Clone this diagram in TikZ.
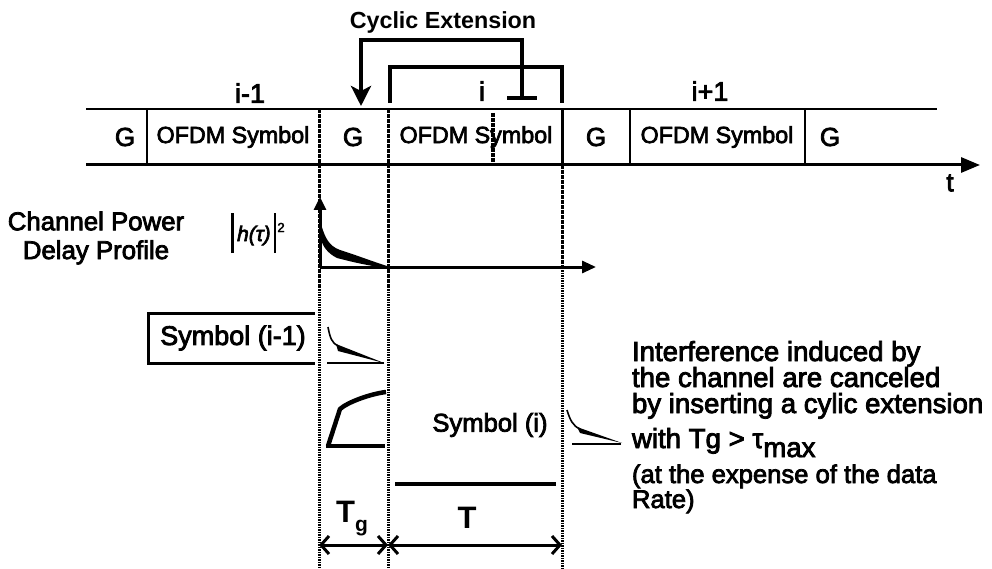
\documentclass[tikz,border=0pt]{standalone}
\usepackage{fontspec}
\setmainfont{Liberation Sans}
\newfontfamily\scanfont{Liberation Sans}[FakeBold=3]
\usetikzlibrary{arrows.meta}
\begin{document}
\begin{tikzpicture}[x=1pt,y=-1pt,
  every node/.style={inner sep=0pt, outer sep=0pt},
  thinl/.style={line width=1.8pt},
  axisl/.style={line width=3pt},
  dotl/.style={line width=3pt, dash pattern=on 1.6pt off 0.9pt},
  brk/.style={line width=4pt},
  fs/.style={font=\fontsize{#1}{#1}\selectfont\scanfont},
  fsb/.style={font=\fontsize{#1}{#1}\selectfont\bfseries},
  barb/.style={line width=3pt, {Straight Barb[length=8pt,width=18pt]}-{Straight Barb[length=8pt,width=18pt]}},
]
\useasboundingbox (0,0) rectangle (992,569);

% ---------- time line ----------
\coordinate (tlL) at (86,109);  \coordinate (tlR) at (937,109);
\coordinate (axL) at (86,165);  \coordinate (axR) at (980,165);
\draw[thinl] (tlL) -- (tlR);
\draw[axisl,-{Triangle[length=19pt,width=15pt]}] (axL) -- (axR);

% separators inside the time line
\draw[thinl] (147,109) -- (147,165);
\draw[thinl] (630,109) -- (630,165);
\draw[thinl] (805,109) -- (805,165);
\draw[line width=3pt] (562,109) -- (562,165);
\draw[dotl, line width=3.4pt] (493,113) -- (493,165);

% long dotted guides
\coordinate (g1t) at (319,109); \coordinate (g1b) at (319,569);
\coordinate (g2t) at (388,109); \coordinate (g2b) at (388,569);
\coordinate (g3t) at (562,165); \coordinate (g3b) at (562,569);
\draw[dotl] (g1t) -- (g1b);
\draw[dotl] (g2t) -- (g2b);
\draw[dotl] (g3t) -- (g3b);

% labels in the time line
\node[fs=26] (G0) at (125,137) {G};
\node[fs=23.3] (S0) at (233,137) {OFDM Symbol};
\node[fs=26] (G1) at (353,137) {G};
\node[fs=23.3] (S1) at (476,137) {OFDM Symbol};
\node[fs=26] (G2) at (596,137) {G};
\node[fs=23.3] (S2) at (717,137) {OFDM Symbol};
\node[fs=26] (G3) at (830,137) {G};
\node[fs=26] (tl) at (950,183) {t};

\node[fs=27] (im1) at (250,93) {i-1};
\node[fs=27] (ii) at (482,91) {i};
\node[fs=27] (ip1) at (710,91) {i+1};

% ---------- cyclic extension ----------
\node[fsb=23.3] (ce) at (443,22) {Cyclic Extension};
\coordinate (ce1) at (522,98); \coordinate (ce2) at (522,40);
\coordinate (ce3) at (361,40); \coordinate (ce4) at (361,106);
\draw[brk,-{Stealth[length=20pt,width=20pt,inset=5pt]}] (ce1) -- (ce2) -- (ce3) -- (ce4);
\coordinate (teeL) at (507,98); \coordinate (teeR) at (537,98);
\draw[brk] (teeL) -- (teeR);
\coordinate (b1) at (390,103); \coordinate (b2) at (390,67);
\coordinate (b3) at (562,67);  \coordinate (b4) at (562,103);
\draw[brk] (b1) -- (b2) -- (b3) -- (b4);

% ---------- channel power delay profile ----------
\node[fs=25.8, align=center] (cpdp) at (96,238) {Channel Power\\[3pt]Delay Profile};
\node[font=\fontsize{21}{21}\selectfont\scanfont] (h) at (258,233) {\rule[-12pt]{2.8pt}{40pt}\hspace{3pt}\itshape h(τ)\hspace{3pt}\rule[-12pt]{2.8pt}{40pt}\hspace{1pt}\raisebox{9pt}{\fontsize{13}{13}\selectfont\upshape 2}};
\coordinate (o) at (320,267);
\coordinate (ytip) at (320,197);
\coordinate (xtip) at (596,267);
\draw[axisl,-{Triangle[length=13pt,width=12pt]}] (o) -- (ytip);
\draw[axisl,-{Triangle[length=14pt,width=12pt]}] (o) -- (xtip);
\fill (321,224) .. controls (325,238) and (329,246) .. (340,250)
  .. controls (356,255) and (374,262) .. (390,267)
  -- (386,268) .. controls (370,266) and (352,262) .. (337,258)
  .. controls (327,253) and (323,246) .. (321,240) -- cycle;

% ---------- symbol (i-1) ----------
\node[fs=27] (sim1) at (233,338) {Symbol (i-1)};
\coordinate (bx1) at (315,313); \coordinate (bx2) at (148,313);
\coordinate (bx3) at (148,363); \coordinate (bx4) at (315,363);
\draw[line width=3pt] (bx1) -- (bx2) -- (bx3) -- (bx4);
\draw[line width=1.6pt] (328,327) .. controls (330,338) and (332,343) .. (338,346);
\fill (336,344) -- (384,363) -- (338,351) -- cycle;
\draw[line width=2.4pt] (327,363) -- (384,363);

% rising tail of cyclic extension
\draw[line width=4.5pt, line join=round] (328,446) -- (340,409)
  .. controls (348,402) and (370,394) .. (386,392);
\draw[line width=3.5pt] (326,446) -- (385,446);

% ---------- symbol (i) ----------
\node[fs=25.6] (si) at (490,425) {Symbol (i)};
\coordinate (sl1) at (395,484); \coordinate (sl2) at (556,484);
\draw[line width=4pt] (sl1) -- (sl2);
\draw[line width=1.6pt] (567,410) .. controls (570,420) and (573,426) .. (580,429);
\fill (577,427) -- (622,443) -- (580,433) -- cycle;
\draw[line width=2.6pt] (572,444) -- (621,444);

% ---------- T_g and T ----------
\node[fsb=31] (tg) at (352,519) {T\raisebox{-9pt}{\fontsize{21}{21}\selectfont g}};
\node[fsb=31] (tt) at (467,518) {T};
\coordinate (a0) at (319,545); \coordinate (a1) at (388,545); \coordinate (a2) at (562,545);
\draw[barb] (a0) -- (a1);
\draw[barb] (a1) -- (a2);

% ---------- explanation ----------
\node[fs=27.6, anchor=base west] (r1) at (632,361) {Interference induced by};
\node[fs=27.6, anchor=base west] (r2) at (632,387) {the channel are canceled};
\node[fs=27.6, anchor=base west] (r3) at (632,413) {by inserting a cylic extension};
\node[fs=27.6, anchor=base west] (r4) at (632,448) {with Tg > τ\raisebox{-9pt}{max}};
\node[fs=25.6, anchor=base west] (r5) at (632,483) {(at the expense of the data};
\node[fs=25.6, anchor=base west] (r6) at (632,508) {Rate)};
\end{tikzpicture}
\end{document}
